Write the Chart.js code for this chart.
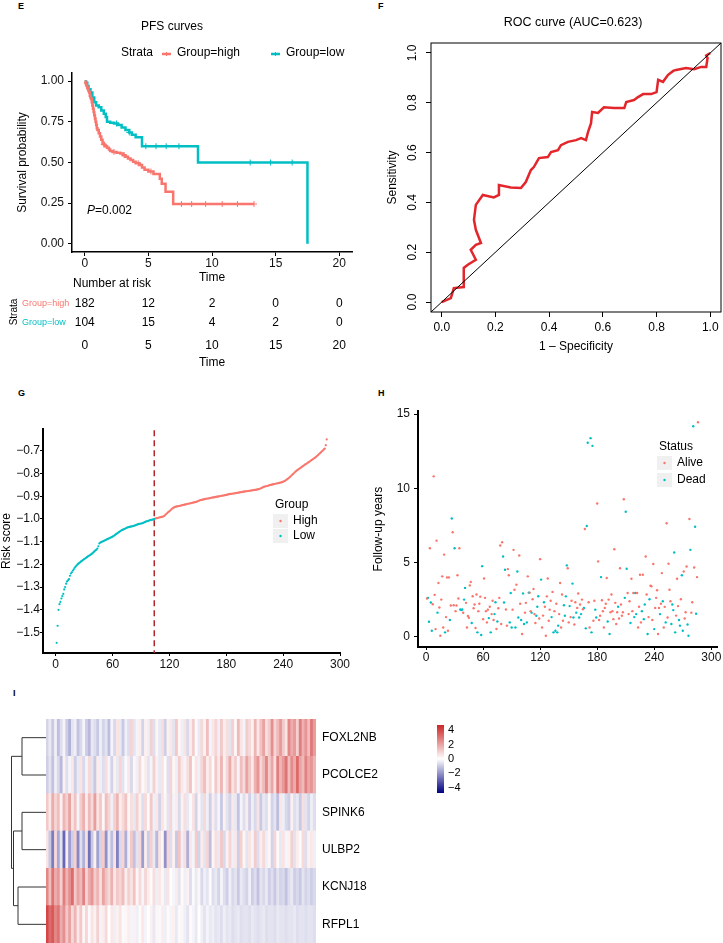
<!DOCTYPE html>
<html lang="en">
<head>
<meta charset="utf-8">
<title>Risk model figure</title>
<script src="https://cdn.jsdelivr.net/npm/chart.js@4.4.1/dist/chart.umd.min.js"></script>
<style>
  body { margin: 0; background: #fff; }
  #page { position: relative; width: 723px; height: 943px; overflow: hidden; font-family: "Liberation Sans", Arial, sans-serif; }
  #page canvas { position: absolute; }
  .tag { position: absolute; font-weight: bold; font-size: 9px; line-height: 9px; color: #000; }
</style>
</head>
<body>
<div id="page">
  <div class="tag" style="left:18px;top:2px">E</div>
  <div class="tag" style="left:378px;top:2px">F</div>
  <div class="tag" style="left:18px;top:389px">G</div>
  <div class="tag" style="left:378px;top:389px">H</div>
  <div class="tag" style="left:13px;top:689px">I</div>
  <canvas id="km" width="360" height="375" style="left:0;top:0"></canvas>
  <canvas id="roc" width="363" height="370" style="left:360px;top:0"></canvas>
  <canvas id="score" width="360" height="280" style="left:0;top:400px"></canvas>
  <canvas id="follow" width="363" height="280" style="left:360px;top:400px"></canvas>
  <canvas id="heat" width="723" height="243" style="left:0;top:700px"></canvas>
</div>
<script>
// ---------------- DONNEES ----------------

// E : courbes PFS (temps de chaque marche, survie après la marche)
const kmHighT = [0, 0.05, 0.1, 0.15, 0.2, 0.25, 0.3, 0.35, 0.4, 0.45, 0.5, 0.55, 0.6, 0.65, 0.7, 0.75, 0.8, 0.85, 0.9, 0.95,
  1.0, 1.1, 1.2, 1.3, 1.4, 1.5, 1.6, 1.75, 1.9, 2.0, 2.2, 2.5, 2.8, 3.0, 3.2, 3.4, 3.6, 3.8, 4.0, 4.3, 4.5, 4.7, 5.0, 5.4,
  5.9, 6.05, 6.35, 6.95, 13.3];
const kmHighS = [1, 0.99, 0.98, 0.97, 0.96, 0.95, 0.94, 0.93, 0.91, 0.90, 0.89, 0.87, 0.85, 0.83, 0.81, 0.79, 0.77, 0.75, 0.73, 0.71,
  0.70, 0.68, 0.66, 0.64, 0.62, 0.61, 0.60, 0.59, 0.58, 0.57, 0.565, 0.56, 0.555, 0.545, 0.535, 0.525, 0.515, 0.505, 0.495, 0.485,
  0.47, 0.455, 0.445, 0.43, 0.40, 0.37, 0.32, 0.245, 0.245];
const kmLowT = [0, 0.1, 0.2, 0.3, 0.45, 0.6, 0.75, 0.9, 1.1, 1.3, 1.5, 1.65, 1.75, 2.0, 2.3, 2.6, 2.9, 3.2, 3.5, 3.7, 4.0, 4.5, 8.9, 17.5];
const kmLowS = [1, 0.99, 0.97, 0.95, 0.93, 0.90, 0.87, 0.85, 0.84, 0.82, 0.80, 0.78, 0.75, 0.745, 0.74, 0.73, 0.715, 0.70, 0.685, 0.67, 0.655, 0.60, 0.50, 0];
const censorHighT = [1.5, 2.3, 3.1, 4.2, 5.2, 7.6, 8.4, 9.5, 10.8, 12.0, 13.3];
const censorLowT = [2.5, 3.5, 4.8, 5.6, 6.4, 7.4, 13.0, 14.6, 16.3];
const riskTimes = [0, 5, 10, 15, 20];
const riskHigh = [182, 12, 2, 0, 0];
const riskLow = [104, 15, 4, 2, 0];

// F : courbe ROC
const rocFpr = [0, 0.034, 0.045, 0.082, 0.082, 0.097, 0.127, 0.108, 0.127, 0.146, 0.127, 0.12, 0.127, 0.153, 0.194,
  0.213, 0.213, 0.257, 0.295, 0.313, 0.332, 0.343, 0.362, 0.395, 0.407, 0.433, 0.444, 0.47, 0.5, 0.519,
  0.537, 0.545, 0.556, 0.56, 0.582, 0.604, 0.642, 0.68, 0.687, 0.716, 0.731, 0.75, 0.78, 0.8, 0.806,
  0.824, 0.843, 0.862, 0.873, 0.91, 0.94, 0.966, 0.985, 0.99, 0.985, 1.0];
const rocTpr = [0, 0.016, 0.056, 0.06, 0.137, 0.15, 0.17, 0.21, 0.23, 0.237, 0.29, 0.33, 0.39, 0.43, 0.42,
  0.43, 0.47, 0.46, 0.458, 0.482, 0.53, 0.542, 0.578, 0.582, 0.602, 0.61, 0.63, 0.643, 0.65, 0.658,
  0.65, 0.683, 0.718, 0.763, 0.759, 0.782, 0.779, 0.779, 0.803, 0.811, 0.823, 0.835, 0.835, 0.843, 0.892,
  0.884, 0.912, 0.928, 0.932, 0.94, 0.935, 0.944, 0.944, 0.98, 0.99, 1.0];

// G : score de risque trié (104 low puis 182 high)
const cutoffIndex = 104;
const riskScore = [
  -1.545, -1.470, -1.400, -1.375, -1.365, -1.350, -1.340, -1.330, -1.310, -1.300,
  -1.285, -1.275, -1.270, -1.265, -1.250, -1.240, -1.235, -1.228, -1.222, -1.215,
  -1.210, -1.205, -1.200, -1.197, -1.193, -1.190, -1.186, -1.183, -1.180, -1.177,
  -1.174, -1.171, -1.168, -1.165, -1.162, -1.160, -1.157, -1.154, -1.150, -1.146,
  -1.142, -1.138, -1.135, -1.130, -1.120, -1.108, -1.104, -1.102, -1.100, -1.098,
  -1.096, -1.094, -1.092, -1.090, -1.088, -1.086, -1.084, -1.082, -1.080, -1.078,
  -1.075, -1.072, -1.069, -1.066, -1.063, -1.060, -1.057, -1.054, -1.051, -1.049,
  -1.047, -1.045, -1.043, -1.041, -1.039, -1.037, -1.036, -1.035, -1.034, -1.033,
  -1.032, -1.031, -1.029, -1.028, -1.026, -1.025, -1.023, -1.022, -1.021, -1.020,
  -1.019, -1.018, -1.016, -1.014, -1.012, -1.010, -1.009, -1.008, -1.006, -1.005,
  -1.004, -1.003, -1.002, -1.001,
  -0.998, -0.997, -0.996, -0.995, -0.994, -0.993, -0.992, -0.991, -0.990, -0.988,
  -0.985, -0.981, -0.977, -0.973, -0.969, -0.966, -0.962, -0.958, -0.954, -0.951,
  -0.949, -0.947, -0.946, -0.945, -0.944, -0.943, -0.942, -0.941, -0.940, -0.939,
  -0.938, -0.937, -0.936, -0.935, -0.934, -0.933, -0.932, -0.931, -0.930, -0.929,
  -0.928, -0.927, -0.926, -0.925, -0.924, -0.922, -0.920, -0.918, -0.917, -0.916,
  -0.915, -0.914, -0.913, -0.912, -0.911, -0.910, -0.910, -0.909, -0.908, -0.907,
  -0.906, -0.905, -0.905, -0.904, -0.903, -0.902, -0.902, -0.901, -0.900, -0.899,
  -0.898, -0.897, -0.897, -0.896, -0.895, -0.894, -0.893, -0.892, -0.891, -0.890,
  -0.890, -0.889, -0.888, -0.888, -0.887, -0.886, -0.885, -0.885, -0.884, -0.883,
  -0.882, -0.882, -0.881, -0.880, -0.880, -0.879, -0.878, -0.878, -0.877, -0.876,
  -0.876, -0.875, -0.874, -0.874, -0.873, -0.872, -0.872, -0.871, -0.870, -0.869,
  -0.868, -0.866, -0.864, -0.862, -0.860, -0.858, -0.857, -0.856, -0.855, -0.854,
  -0.852, -0.851, -0.850, -0.849, -0.848, -0.847, -0.846, -0.845, -0.844, -0.843,
  -0.842, -0.841, -0.840, -0.839, -0.838, -0.836, -0.834, -0.832, -0.829, -0.826,
  -0.823, -0.820, -0.816, -0.812, -0.808, -0.804, -0.800, -0.796, -0.792, -0.788,
  -0.785, -0.782, -0.779, -0.776, -0.773, -0.770, -0.767, -0.764, -0.761, -0.758,
  -0.756, -0.753, -0.750, -0.747, -0.744, -0.741, -0.738, -0.735, -0.732, -0.729,
  -0.726, -0.722, -0.718, -0.714, -0.710, -0.706, -0.702, -0.698, -0.694, -0.690, -0.675, -0.650];

// H : suivi (années) et statut (1 = Dead)
const followYears = [
  2.55, 2.6, 0.98, 5.95, 2.28, 0.38, 2.17, 10.8, 2.8, 0.49,
  6.46, 1.6, 3.6, 1.95, 0.04, 2.48, 4.05, 0.6, 5.52, 0.27,
  1.3, 3.98, 0.38, 3.98, 1.1, 2.08, 7.96, 7.03, 2.1, 5.95,
  1.7, 2.08, 4.12, 2.55, 5.95, 1.81, 1.77, 1.81, 1.59, 2.48,
  3.27, 2.26, 0.6, 1.37, 1.25, 3.44, 3.67, 0.9, 2.71, 1.9,
  2.15, 0.56, 2.82, 0.27, 1.7, 2.2, 2.68, 0.09, 4.74, 1.16,
  3.9, 2.6, 1.7, 0.94, 1.8, 1.23, 2.0, 0.27, 1.5, 2.4,
  1.1, 1.5, 2.3, 0.5, 1.0, 1.9, 2.6, 6.13, 0.83, 6.35,
  5.39, 2.28, 4.5, 1.81, 0.72, 4.54, 4.12, 0.94, 2.93, 0.6,
  1.8, 5.84, 3.15, 0.6, 3.49, 4.38, 1.27, 5.46, 2.2, 1.1,
  0.16, 2.9, 0.83, 1.6, 2.26, 0.94, 4.05, 2.95, 2.95, 1.7,
  1.6, 2.5, 3.2, 1.5, 0.9, 1.39, 2.0, 2.71, 1.2, 5.21,
  3.83, 0.6, 1.4, 2.3, 2.0, 0.04, 2.7, 3.9, 1.05, 1.8,
  2.4, 1.3, 3.0, 0.27, 1.7, 0.38, 2.2, 0.27, 0.72, 1.5,
  3.6, 0.6, 2.82, 1.05, 2.1, 1.39, 2.7, 4.79, 4.6, 0.94,
  2.04, 1.3, 2.4, 3.56, 1.27, 0.8, 2.3, 1.6, 1.92, 2.89,
  1.27, 2.15, 1.5, 2.48, 1.83, 1.92, 7.25, 0.54, 7.45, 13.07,
  2.3, 0.6, 13.38, 0.27, 12.86, 1.05, 2.4, 1.8, 1.27, 8.97,
  5.06, 1.1, 1.39, 4.0, 2.44, 1.7, 0.6, 1.92, 2.2, 3.94,
  1.0, 2.48, 0.16, 1.63, 2.82, 1.7, 1.16, 5.88, 2.26, 0.83,
  1.63, 2.0, 1.2, 4.6, 2.15, 1.39, 1.63, 9.26, 2.6, 8.41,
  4.56, 2.93, 1.5, 2.37, 0.9, 3.89, 1.7, 2.93, 1.3, 2.93,
  1.5, 2.93, 0.6, 2.0, 4.16, 0.94, 1.7, 4.16, 1.16, 2.15,
  5.39, 2.82, 0.16, 1.3, 2.5, 3.42, 3.38, 1.1, 4.88, 0.49,
  1.92, 2.6, 3.11, 0.16, 1.92, 1.5, 2.2, 4.27, 2.37, 0.6,
  1.99, 0.94, 7.63, 1.27, 4.9, 3.15, 2.37, 0.83, 2.15, 1.77,
  5.66, 0.27, 1.4, 3.89, 2.04, 1.1, 0.72, 2.5, 4.12, 0.38,
  4.38, 1.2, 1.63, 4.72, 0.8, 0.04, 7.92, 5.84, 1.6, 2.3,
  14.18, 4.65, 7.4, 1.52, 4.0, 14.45];
const followDead = [
  0, 1, 1, 0, 1, 1, 0, 0, 0, 0,   0, 1, 0, 0, 0, 0, 0, 0, 0, 1,
  0, 0, 0, 0, 1, 0, 1, 0, 0, 1,   0, 0, 0, 0, 0, 1, 1, 1, 0, 1,
  1, 0, 0, 0, 0, 0, 0, 1, 0, 0,   0, 0, 0, 1, 0, 0, 0, 1, 1, 0,
  0, 0, 0, 0, 0, 1, 0, 1, 0, 0,   0, 1, 1, 0, 1, 0, 0, 0, 0, 0,
  1, 1, 1, 0, 0, 0, 0, 1, 1, 1,   0, 0, 0, 1, 0, 1, 1, 0, 0, 1,
  0, 1, 1, 0, 0, 1, 0, 1, 0, 0,   1, 0, 0, 0, 0, 1, 1, 1, 0, 0,
  1, 0, 0, 1, 0, 0, 0, 0, 0, 0,   0, 1, 0, 1, 0, 1, 0, 1, 1, 0,
  0, 0, 0, 0, 1, 1, 1, 1, 0, 0,   1, 0, 0, 1, 1, 0, 0, 1, 0, 0,
  1, 0, 1, 0, 0, 1, 0, 1, 1, 1,   0, 0, 1, 1, 1, 0, 0, 1, 1, 0,
  0, 0, 0, 1, 0, 0, 0, 0, 0, 0,   1, 0, 1, 0, 0, 0, 0, 0, 0, 0,
  0, 1, 0, 0, 0, 0, 0, 0, 1, 1,   1, 0, 0, 0, 1, 0, 0, 0, 1, 1,
  1, 0, 0, 0, 0, 0, 1, 0, 1, 1,   0, 0, 1, 0, 1, 0, 0, 0, 0, 1,
  0, 0, 0, 0, 0, 1, 0, 0, 1, 0,   0, 1, 0, 0, 0, 0, 0, 1, 1, 1,
  1, 1, 0, 0, 0, 1, 1, 0, 1, 1,   0, 0, 0, 0, 1, 1, 0, 1, 0, 0,
  1, 0, 1, 1, 0, 0];

// I : heatmap (patients triés par score, de gauche à droite)
const genes = ['FOXL2NB', 'PCOLCE2', 'SPINK6', 'ULBP2', 'KCNJ18', 'RFPL1'];
const exprFOXL2NB = [-0.8, -0.4, -1.0, -0.3, -1.2, -0.6, -0.2, -0.9, -1.4, -0.5, -0.3, -1.1, -0.7, -0.2, -0.9, -1.3, -0.4, -0.6, -1.0, -0.3, -0.8, -0.5, -1.2, -0.2, -0.7, 0.6, -0.4, -1.0, -0.3, -0.6,
  0.9, -0.5, -0.2, 0.4, -0.8, 0.3, -0.3, 1.0, -0.6, 0.2, -0.4, 0.7, -0.9, 0.3, 0.5, -0.5, 1.2, 0.2, -0.3, 0.6, -0.7, 0.4, 1.1, 0.1, -0.4, 0.8, 0.3, 1.4, -0.2, 0.5,
  0.9, -0.3, 1.2, 0.4, 0.7, -0.5, 1.0, 0.2, 1.5, 0.6, -0.2, 1.1, 0.8, 0.3, 1.6, 0.5, 1.3, 2.0, 0.7, 1.1, 2.4, 0.9, 1.5, 2.2, 1.2, 0.6, 2.6, 1.8, 2.2, 1.0, 2.8, 1.7, 2.3, 1.4, 2.9, 2.1];
const exprPCOLCE2 = [-0.9, -0.5, -1.1, -0.3, -0.7, -1.3, 0.3, -0.6, -0.2, 0.5, -0.9, -0.4, 0.6, -0.7, -0.2, 0.8, -0.5, -1.0, 0.4, -0.3, -0.6, 0.7, -0.2, -0.8, 0.3, -0.4, 0.9, -0.5, -0.1, 0.5,
  -0.7, 0.2, -0.3, 0.8, -0.1, 0.4, -0.5, -0.2, 1.0, 0.3, -0.4, 0.6, 0.1, -0.6, 0.9, 0.2, -0.3, 1.1, 0.5, -0.2, 0.7, 1.3, 0.1, 0.6, -0.3, 0.9, 1.4, 0.4, 0.8, -0.1,
  1.2, 0.5, 1.6, 0.3, 0.9, 1.8, 0.6, 1.1, -0.2, 1.4, 0.8, 2.0, 1.2, 0.5, 1.7, 2.3, 0.9, 1.5, 2.6, 1.1, 1.9, 0.7, 2.8, 1.6, 2.2, 3.0, 1.4, 2.5, 1.8, 3.2, 2.0, 1.5, 2.7, 1.9, 2.3, 1.6];
const exprSPINK6 = [1.2, 0.5, 1.8, 0.9, 1.4, 0.3, 1.6, 1.0, 2.0, 0.6, 1.3, -0.2, 1.1, 1.7, 0.4, 1.5, 0.8, 2.1, 0.6, 1.2, 0.2, 1.4, 0.9, -0.3, 1.0, 1.6, 0.4, 0.8, 1.3, 0.2,
  0.7, -0.4, 1.0, 0.3, -0.6, 0.8, 0.1, 1.2, -0.3, 0.5, -0.8, 0.6, 0.2, -0.5, 0.9, -0.2, 0.4, -0.7, 0.3, 0.7, -0.4, -0.1, 0.6, -0.8, 0.2, -0.5, 0.8, -0.3, -0.9, 0.4,
  -0.6, -0.2, -1.0, 0.3, -0.5, -0.8, 0.5, -0.4, -1.1, -0.2, -0.6, 0.4, -0.9, -0.3, -0.7, 0.6, -1.0, -0.4, -0.6, 0.2, -0.8, -0.5, -1.2, 0.5, -0.3, -0.7, -0.9, 0.3, -0.6, -0.4, -1.0, 0.7, -0.5, -0.8, -0.3, -0.6];
const exprULBP2 = [0.6, -1.0, -2.4, 0.8, -1.6, -0.5, -2.8, 0.4, -1.8, -0.9, 1.0, -2.2, -0.6, -1.4, 0.7, -2.6, -1.0, 0.3, -1.7, -0.8, 1.1, -2.0, -0.4, -1.2, 0.6, -2.3, -0.7, 0.9, -1.5, -0.3,
  1.2, -1.1, -0.5, 0.8, -1.8, 0.4, -0.9, 1.0, -0.4, -1.3, 0.6, 0.2, -2.0, 0.9, -0.6, 0.3, -1.0, 1.3, -0.3, 0.7, -1.5, 0.5, -0.2, 1.1, -0.8, 0.4, -0.5, 0.9, -1.2, 0.2,
  0.7, -0.4, 1.2, -0.7, 0.3, 0.9, -0.3, 0.5, -0.9, 1.0, 0.2, -0.5, 0.6, -0.2, 1.1, -0.6, 0.4, 0.8, -0.3, 0.2, -0.8, 0.9, 0.1, -0.4, 0.6, -0.2, 0.3, 1.0, -0.5, 0.4, -0.1, 0.8, -0.6, 0.3, 0.5, -0.3];
const exprKCNJ18 = [2.6, 1.4, 3.0, 1.8, 2.2, 1.0, 2.8, 1.6, 2.4, 3.2, 1.2, 2.0, 1.5, 2.7, 0.9, 1.8, 2.3, 1.1, 1.6, 0.7, 2.0, 1.3, 0.8, 1.7, 0.5, 1.2, 0.9, 1.4, 0.4, 1.0,
  0.6, 1.3, 0.2, 0.8, -0.2, 0.9, 0.4, 0.1, 0.7, -0.3, 0.5, 0.2, -0.4, 0.6, 0.0, -0.2, 0.4, -0.5, 0.1, -0.3, 0.3, -0.6, -0.1, -0.4, 0.2, -0.7, -0.3, -0.5, 0.1, -0.6,
  -0.4, -0.8, -0.2, -0.6, -0.9, -0.3, -0.7, -0.5, -1.0, -0.4, -0.6, -0.8, -0.3, -0.9, -0.6, -1.1, -0.5, -0.7, -0.4, -0.9, -0.6, -1.0, -0.5, -0.8, -0.7, -1.1, -0.6, -0.4, -0.9, -0.7, -1.0, -0.5, -0.8, -0.6, -0.9, -0.7];
const exprRFPL1 = [4.0, 3.2, 3.6, 2.6, 3.0, 1.8, 2.4, 1.2, 2.0, 0.8, 1.6, 0.5, 1.2, 0.2, 0.9, -0.1, 0.6, 0.3, 1.0, -0.2, 0.4, 0.8, 0.0, 0.5, -0.3, 0.3, 0.6, -0.1, 0.2, 0.4,
  -0.2, 0.3, -0.3, 0.1, 0.5, -0.2, 0.0, 0.3, -0.4, 0.2, -0.1, 0.4, -0.3, 0.1, -0.2, 0.3, -0.4, -0.1, 0.2, -0.3, -0.5, 0.1, -0.2, -0.4, 0.0, -0.3, -0.5, -0.2, -0.4, -0.3,
  -0.5, -0.4, -0.6, -0.3, -0.5, -0.4, -0.6, -0.5, -0.4, -0.6, -0.5, -0.5, -0.6, -0.4, -0.5, -0.6, -0.5, -0.4, -0.6, -0.5, -0.5, -0.6, -0.4, -0.5, -0.5, -0.6, -0.5, -0.5, -0.4, -0.6, -0.5, -0.5, -0.6, -0.5, -0.5, -0.6];
// dendrogramme : feuilles 0-5, fusions numérotées 6, 7, ...
const dendroMerges = [[0, 1, 2.4], [2, 3, 2.4], [4, 5, 2.8], [7, 8, 3.25], [6, 9, 3.45]];
const colorbarTicks = [4, 2, 0, -2, -4];


// ---------------- STYLES ----------------
const FONT = '"Liberation Sans", Arial, Helvetica, sans-serif';
const RED = '#F8766D';
const TEAL = '#00BFC4';
const HEAT_LIMIT = 4.7;
const DENDRO_PX = 10;

Chart.defaults.font.family = FONT;
Chart.defaults.font.size = 12;
Chart.defaults.color = '#000';
Chart.defaults.animation = false;
Chart.defaults.plugins.legend.display = false;
Chart.defaults.plugins.tooltip.enabled = false;

const minus = (txt) => txt.replace('-', '\u2212');

function survAt(ts, ss, t) {
    let s = 1;
    ts.forEach((ti, i) => { if (ti <= t) s = ss[i]; });
    return s;
}

function heatColor(v) {
    const k = Math.max(-1, Math.min(1, v / HEAT_LIMIT));
    const end = k >= 0 ? [205, 38, 38] : [0, 0, 128];
    const a = Math.abs(k);
    const c = end.map(e => Math.round(255 + (e - 255) * a));
    return `rgb(${c[0]},${c[1]},${c[2]})`;
}

function classicAxis(extra) {
    return Object.assign({
        type: 'linear',
        grid: { drawOnChartArea: false, drawTicks: true, tickLength: 4, color: '#000', lineWidth: 1 },
        border: { display: true, color: '#000', width: 1.5 },
        ticks: { includeBounds: false, color: '#111', font: { size: 12 } }
    }, extra);
}


// ---------------- E : KAPLAN-MEIER ----------------
const kmExtras = {
    id: 'kmExtras',
    afterDraw(chart) {
        const { ctx } = chart;
        const xs = chart.scales.x;
        ctx.save();
        ctx.fillStyle = '#000';
        ctx.textBaseline = 'middle';
        ctx.font = `12px ${FONT}`;
        ctx.textAlign = 'center';
        ctx.fillText('PFS curves', 172, 27);

        // légende
        ctx.textAlign = 'left';
        ctx.fillText('Strata', 121, 53);
        [[RED, 162, 'Group=high', 177], [TEAL, 271, 'Group=low', 286]].forEach(([col, kx, txt, tx]) => {
            ctx.strokeStyle = col;
            ctx.lineWidth = 2.5;
            ctx.beginPath(); ctx.moveTo(kx, 54); ctx.lineTo(kx + 9, 54); ctx.stroke();
            ctx.lineWidth = 1;
            ctx.beginPath(); ctx.moveTo(kx + 4.5, 52); ctx.lineTo(kx + 4.5, 56); ctx.stroke();
            ctx.fillStyle = '#000';
            ctx.fillText(txt, tx, 53);
        });

        // valeur p
        ctx.font = `italic 12px ${FONT}`;
        ctx.fillText('P', 87, 211);
        const pw = ctx.measureText('P').width;
        ctx.font = `12px ${FONT}`;
        ctx.fillText('=0.002', 87 + pw, 211);

        // tableau des effectifs à risque
        ctx.fillText('Number at risk', 73, 284);
        ctx.font = `9px ${FONT}`;
        ctx.fillStyle = RED;
        ctx.fillText('Group=high', 22, 304);
        ctx.fillStyle = TEAL;
        ctx.fillText('Group=low', 22, 323);
        ctx.fillStyle = '#000';
        ctx.save();
        ctx.font = `10px ${FONT}`;
        ctx.translate(14, 312);
        ctx.rotate(-Math.PI / 2);
        ctx.textAlign = 'center';
        ctx.fillText('Strata', 0, 0);
        ctx.restore();

        ctx.font = `12px ${FONT}`;
        ctx.textAlign = 'center';
        riskTimes.forEach((t, i) => {
            const x = xs.getPixelForValue(t);
            ctx.fillText(String(riskHigh[i]), x, 304);
            ctx.fillText(String(riskLow[i]), x, 323);
            ctx.fillText(String(t), x, 346);
        });
        ctx.fillText('Time', (chart.chartArea.left + chart.chartArea.right) / 2, 363);
        ctx.restore();
    }
};

new Chart(document.getElementById('km'), {
    type: 'scatter',
    data: {
        datasets: [
            { label: 'Group=high', data: kmHighT.map((t, i) => ({ x: t, y: kmHighS[i] })), showLine: true, stepped: true,
              borderColor: RED, borderWidth: 2.5, pointRadius: 0 },
            { label: 'Group=low', data: kmLowT.map((t, i) => ({ x: t, y: kmLowS[i] })), showLine: true, stepped: true,
              borderColor: TEAL, borderWidth: 2.5, pointRadius: 0 },
            { label: 'censor high', data: censorHighT.map(t => ({ x: t, y: survAt(kmHighT, kmHighS, t) })),
              pointStyle: 'cross', pointRadius: 3, borderColor: RED, borderWidth: 1 },
            { label: 'censor low', data: censorLowT.map(t => ({ x: t, y: survAt(kmLowT, kmLowS, t) })),
              pointStyle: 'cross', pointRadius: 3, borderColor: TEAL, borderWidth: 1 }
        ]
    },
    options: {
        responsive: false,
        layout: { padding: { left: 0, right: 8, top: 73, bottom: 90 } },
        scales: {
            x: classicAxis({
                min: -1, max: 21,
                afterFit: (s) => { s.height = 33; },
                ticks: { includeBounds: false, stepSize: 5, padding: 0, color: '#111', font: { size: 12 } },
                title: { display: true, text: 'Time', padding: { top: 0, bottom: 0 }, font: { size: 12 } }
            }),
            y: classicAxis({
                min: -0.05, max: 1.05,
                afterFit: (s) => { s.width = 72; },
                ticks: { includeBounds: false, stepSize: 0.25, padding: 4, color: '#111', font: { size: 12 },
                         callback: (v) => v.toFixed(2) },
                title: { display: true, text: 'Survival probability', padding: { top: 15, bottom: 0 }, font: { size: 12 } }
            })
        }
    },
    plugins: [kmExtras]
});


// ---------------- F : ROC ----------------
const rocExtras = {
    id: 'rocExtras',
    afterDraw(chart) {
        const { ctx, chartArea: a } = chart;
        const ys = chart.scales.y;
        ctx.save();
        ctx.strokeStyle = '#000';
        ctx.lineWidth = 1;
        ctx.strokeRect(a.left, a.top, a.right - a.left, a.bottom - a.top);
        ctx.fillStyle = '#000';
        ctx.font = `12px ${FONT}`;
        ctx.textAlign = 'center';
        ctx.textBaseline = 'middle';
        ys.ticks.forEach(t => {
            const y = ys.getPixelForValue(t.value);
            ctx.save();
            ctx.translate(53, y);
            ctx.rotate(-Math.PI / 2);
            ctx.fillText(t.value.toFixed(1), 0, 0);
            ctx.restore();
        });
        ctx.font = `12.5px ${FONT}`;
        ctx.fillText('ROC curve (AUC=0.623)', 213, 23);
        ctx.restore();
    }
};

new Chart(document.getElementById('roc'), {
    type: 'scatter',
    data: {
        datasets: [
            { label: 'chance', data: [{ x: -0.1, y: -0.1 }, { x: 1.1, y: 1.1 }], showLine: true,
              borderColor: '#000', borderWidth: 1, pointRadius: 0 },
            { label: 'ROC', data: rocFpr.map((x, i) => ({ x: x, y: rocTpr[i] })), showLine: true,
              borderColor: '#e3262b', borderWidth: 2.5, pointRadius: 0 }
        ]
    },
    options: {
        responsive: false,
        layout: { padding: { left: 0, right: 2, top: 43, bottom: 8 } },
        scales: {
            x: {
                type: 'linear', min: -0.04, max: 1.04,
                afterFit: (s) => { s.height = 50; },
                grid: { drawOnChartArea: false, tickLength: 5, color: '#000' },
                border: { display: false },
                ticks: { includeBounds: false, stepSize: 0.2, padding: 3, color: '#000', callback: (v) => v.toFixed(1) },
                title: { display: true, text: '1 \u2013 Specificity', padding: { top: 0, bottom: 8 } }
            },
            y: {
                type: 'linear', min: -0.04, max: 1.04,
                afterFit: (s) => { s.width = 71; },
                grid: { drawOnChartArea: false, tickLength: 5, color: '#000' },
                border: { display: false },
                ticks: { includeBounds: false, stepSize: 0.2, display: false },
                title: { display: true, text: 'Sensitivity', padding: { top: 25, bottom: 0 } }
            }
        }
    },
    plugins: [rocExtras]
});


// ---------------- G : SCORE DE RISQUE ----------------
function drawKeyLegend(ctx, title, items, x, yTitle) {
    ctx.save();
    ctx.font = `12px ${FONT}`;
    ctx.textBaseline = 'middle';
    ctx.fillStyle = '#000';
    ctx.fillText(title, x, yTitle);
    items.forEach(([label, col, y]) => {
        ctx.fillStyle = '#f0f0f0';
        ctx.fillRect(x - 2, y - 7, 15, 14);
        ctx.fillStyle = col;
        ctx.beginPath(); ctx.arc(x + 5.5, y, 1.2, 0, Math.PI * 2); ctx.fill();
        ctx.fillStyle = '#000';
        ctx.fillText(label, x + 18, y);
    });
    ctx.restore();
}

const scoreExtras = {
    id: 'scoreExtras',
    afterDraw(chart) {
        drawKeyLegend(chart.ctx, 'Group', [['High', RED, 121], ['Low', TEAL, 136]], 275, 105);
    }
};

new Chart(document.getElementById('score'), {
    type: 'scatter',
    data: {
        datasets: [
            { label: 'cutoff', data: [{ x: cutoffIndex, y: -2 }, { x: cutoffIndex, y: 0 }], showLine: true,
              borderColor: '#b2272b', borderWidth: 1.5, borderDash: [6, 4], pointRadius: 0 },
            { label: 'Low', data: riskScore.slice(0, cutoffIndex).map((v, i) => ({ x: i + 1, y: v })),
              pointRadius: 1.1, backgroundColor: TEAL, borderWidth: 0 },
            { label: 'High', data: riskScore.slice(cutoffIndex).map((v, i) => ({ x: cutoffIndex + i + 1, y: v })),
              pointRadius: 1.1, backgroundColor: RED, borderWidth: 0 }
        ]
    },
    options: {
        responsive: false,
        layout: { padding: { left: 0, right: 20, top: 29, bottom: 0 } },
        scales: {
            x: classicAxis({
                min: -13.4, max: 300,
                afterFit: (s) => { s.height = 27; },
                grid: { drawOnChartArea: false, tickLength: 3, color: '#000' },
                border: { color: '#000', width: 2 },
                ticks: { includeBounds: false, stepSize: 60, padding: 1, color: '#111' }
            }),
            y: classicAxis({
                min: -1.59, max: -0.604,
                afterFit: (s) => { s.width = 43; },
                grid: { drawOnChartArea: false, tickLength: 3, color: '#000' },
                border: { color: '#000', width: 2 },
                ticks: { includeBounds: false, stepSize: 0.1, padding: 0, color: '#111', callback: (v) => minus(v.toFixed(1)) },
                title: { display: true, text: 'Risk score', padding: { top: -1, bottom: 0 } }
            })
        }
    },
    plugins: [scoreExtras]
});


// ---------------- H : SUIVI ----------------
const followExtras = {
    id: 'followExtras',
    afterDraw(chart) {
        drawKeyLegend(chart.ctx, 'Status', [['Alive', RED, 63], ['Dead', TEAL, 80]], 299, 47);
    }
};

const alivePts = [], deadPts = [];
followYears.forEach((y, i) => (followDead[i] ? deadPts : alivePts).push({ x: i + 1, y: y }));

new Chart(document.getElementById('follow'), {
    type: 'scatter',
    data: {
        datasets: [
            { label: 'Alive', data: alivePts, pointRadius: 1.2, backgroundColor: RED, borderWidth: 0 },
            { label: 'Dead', data: deadPts, pointRadius: 1.2, backgroundColor: TEAL, borderWidth: 0 }
        ]
    },
    options: {
        responsive: false,
        layout: { padding: { left: 0, right: 6, top: 10.5, bottom: 13 } },
        scales: {
            x: classicAxis({
                min: -8.5, max: 306,
                afterFit: (s) => { s.height = 20; },
                grid: { drawOnChartArea: false, tickLength: 3, color: '#000' },
                border: { color: '#000', width: 2 },
                ticks: { includeBounds: false, stepSize: 60, padding: 0, color: '#111' }
            }),
            y: classicAxis({
                min: -0.72, max: 15.2,
                afterFit: (s) => { s.width = 58; },
                grid: { drawOnChartArea: false, tickLength: 4, color: '#000' },
                border: { color: '#000', width: 2 },
                ticks: { includeBounds: false, stepSize: 5, padding: 4, color: '#111' },
                title: { display: true, text: 'Follow-up years', padding: { top: 11, bottom: 0 } }
            })
        }
    },
    plugins: [followExtras]
});


// ---------------- I : HEATMAP ----------------
const heatRows = [exprFOXL2NB, exprPCOLCE2, exprSPINK6, exprULBP2, exprKCNJ18, exprRFPL1];

const heatExtras = {
    id: 'heatExtras',
    afterDraw(chart) {
        const { ctx, chartArea: a } = chart;
        const ys = chart.scales.y;
        ctx.save();

        // noms des gènes
        ctx.font = `12px ${FONT}`;
        ctx.fillStyle = '#000';
        ctx.textBaseline = 'middle';
        genes.forEach((g, r) => ctx.fillText(g, a.right + 6, ys.getPixelForValue(genes.length - r - 0.5)));

        // dendrogramme
        const nodeX = [], nodeY = [];
        genes.forEach((g, r) => { nodeX[r] = a.left; nodeY[r] = ys.getPixelForValue(genes.length - r - 0.5); });
        ctx.strokeStyle = '#333';
        ctx.lineWidth = 1;
        dendroMerges.forEach(([p, q, h], k) => {
            const id = genes.length + k;
            const x = a.left - h * DENDRO_PX;
            nodeX[id] = x;
            nodeY[id] = (nodeY[p] + nodeY[q]) / 2;
            ctx.beginPath();
            ctx.moveTo(nodeX[p], nodeY[p]);
            ctx.lineTo(x, nodeY[p]);
            ctx.lineTo(x, nodeY[q]);
            ctx.lineTo(nodeX[q], nodeY[q]);
            ctx.stroke();
        });

        // barre de couleurs
        const bx = 437, bw = 7, top = 25, bottom = 93;
        const grad = ctx.createLinearGradient(0, top, 0, bottom);
        for (let i = 0; i <= 10; i++) {
            grad.addColorStop(i / 10, heatColor(HEAT_LIMIT - (2 * HEAT_LIMIT * i) / 10));
        }
        ctx.fillStyle = grad;
        ctx.fillRect(bx, top, bw, bottom - top);
        ctx.fillStyle = '#000';
        ctx.font = `11px ${FONT}`;
        colorbarTicks.forEach(v => {
            const y = top + ((HEAT_LIMIT - v) / (2 * HEAT_LIMIT)) * (bottom - top);
            ctx.fillText(minus(String(v)), bx + bw + 4, y);
        });
        ctx.restore();
    }
};

new Chart(document.getElementById('heat'), {
    type: 'bar',
    data: {
        labels: exprFOXL2NB.map((v, i) => i + 1),
        datasets: heatRows.map((row, r) => ({
            label: genes[r],
            data: row.map(() => 1),
            backgroundColor: row.map(heatColor),
            borderWidth: 0,
            barPercentage: 1,
            categoryPercentage: 1
        })).reverse()
    },
    options: {
        responsive: false,
        layout: { padding: { left: 46, right: 407, top: 19, bottom: 0 } },
        scales: {
            x: { display: false, stacked: true },
            y: { display: false, stacked: true, min: 0, max: 6 }
        }
    },
    plugins: [heatExtras]
});
</script>
</body>
</html>
